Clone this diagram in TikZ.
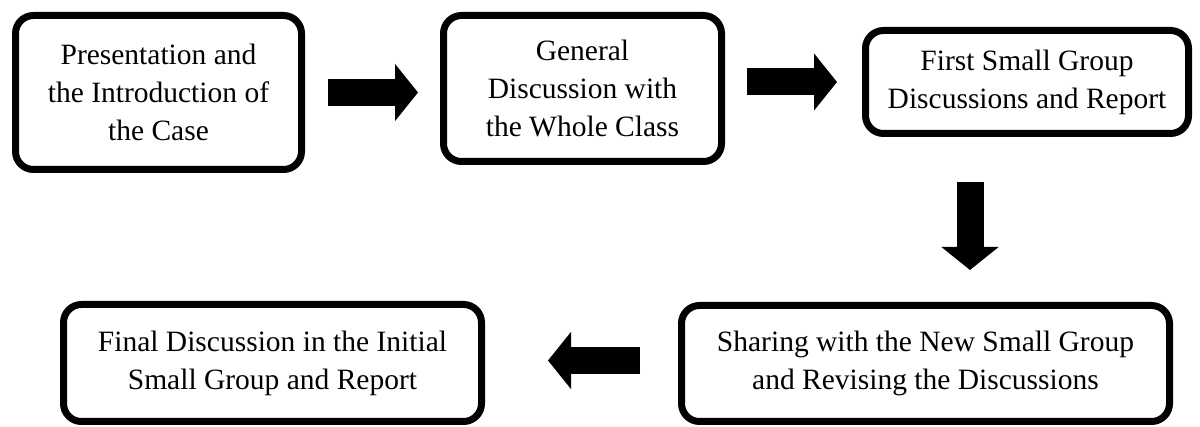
\documentclass[tikz,border=0pt]{standalone}
\usepackage{fontspec}
\setmainfont{Liberation Serif}
\usetikzlibrary{arrows.meta}

\begin{document}
\begin{tikzpicture}[x=1pt, y=-1pt,
    stage/.style={draw, line width=7pt, rounded corners=18pt, align=center, inner sep=0pt,
        font=\fontsize{29.5}{38}\selectfont},
    flow/.style={line width=27pt, -{Triangle[length=23pt, width=56pt]}}]
  \useasboundingbox (0,0) rectangle (1200,427);

  % Top row
  \node[stage, minimum width=286pt, minimum height=154pt] (intro) at (158.5,92.5)
       {Presentation and\\the Introduction of\\the Case};
  \node[stage, minimum width=278pt, minimum height=146pt] (general) at (582.5,88.5)
       {General\\Discussion with\\the Whole Class};
  \node[stage, minimum width=323pt, minimum height=103pt] (first) at (1027,82)
       {First Small Group\\Discussions and Report};

  % Bottom row
  \node[stage, minimum width=488pt, minimum height=116pt] (sharing) at (925.5,363.5)
       {Sharing with the New Small Group\\and Revising the Discussions};
  \node[stage, minimum width=418pt, minimum height=117pt] (final) at (272.5,363)
       {Final Discussion in the Initial\\Small Group and Report};

  % Block arrows between the steps
  \draw[flow, shorten <=23pt, shorten >=22pt] (intro.east) -- (intro.east -| general.west);
  \draw[flow, shorten <=22pt, shorten >=25pt] (general.east |- first.west) -- (first.west);
  \draw[flow, shorten <=45pt, shorten >=32pt] ([xshift=-57pt]first.south) -- ([xshift=-57pt]first.south |- sharing.north);
  \draw[flow, shorten <=38pt, shorten >=63pt] ([yshift=3pt]sharing.west) -- ([yshift=3pt]sharing.west -| final.east);
\end{tikzpicture}
\end{document}
